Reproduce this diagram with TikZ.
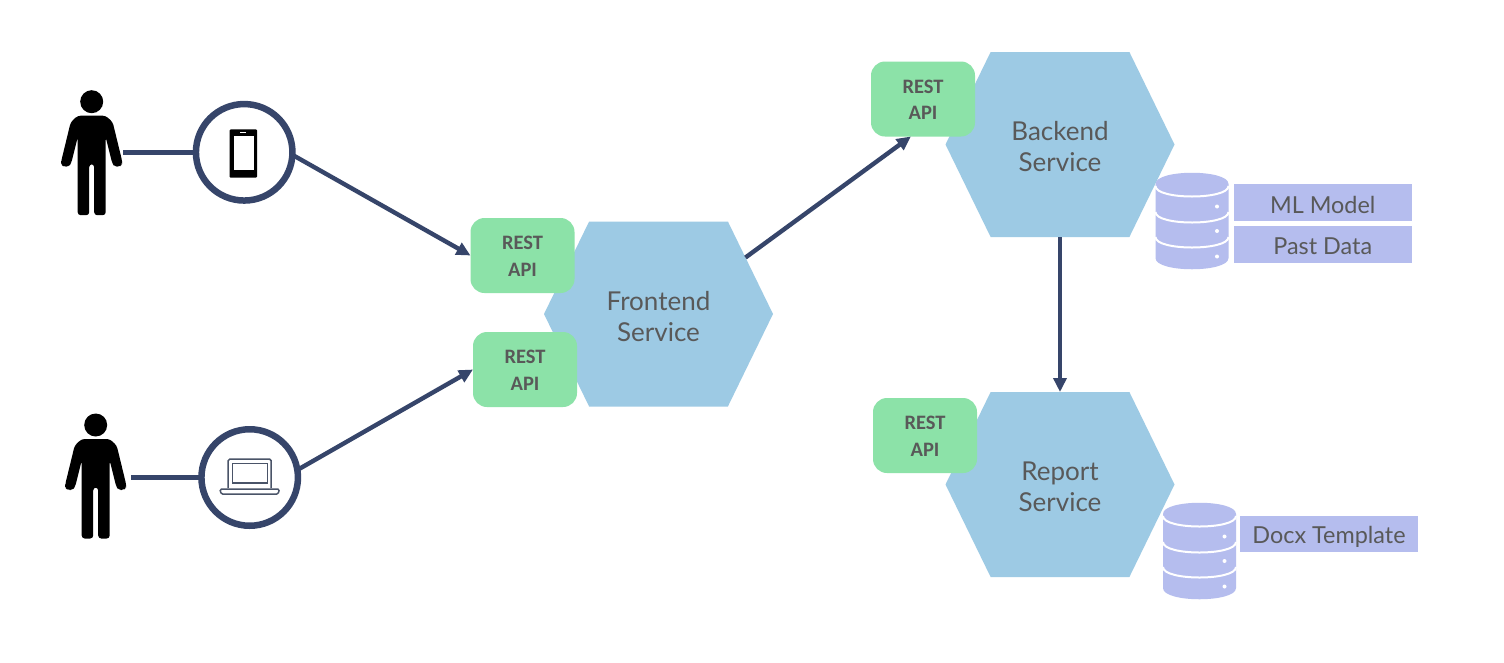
\documentclass[tikz,border=0pt]{standalone}
\usepackage{fontspec}
\setmainfont{Lato}
\newfontfamily\restfont{Carlito}
\usetikzlibrary{shapes.symbols,arrows.meta}
\newcommand{\nudge}[2]{\raisebox{-#1pt}[\height][\depth]{#2}}
\definecolor{hexblue}{HTML}{9DCAE4}
\definecolor{restgreen}{HTML}{8CE2A8}
\definecolor{lav}{HTML}{B5BDEE}
\definecolor{navy}{HTML}{36456A}
\definecolor{txt}{HTML}{595959}
\definecolor{iconblack}{HTML}{000000}
\definecolor{laptopgrey}{HTML}{4A5468}
\tikzset{
  hexnode/.style={signal,signal to=east and west,signal pointer angle=128,
    fill=hexblue,minimum width=229pt,minimum height=185pt,inner sep=0pt,outer sep=0pt,
    text=txt,align=center,font=\fontsize{26}{31}\selectfont},
  restbox/.style={rectangle,rounded corners=14pt,fill=restgreen,minimum width=104pt,minimum height=75pt,
    inner sep=0pt,outer sep=0pt,text=txt,align=center,font=\restfont\bfseries\fontsize{20.5}{26.5}\selectfont},
  lavbox/.style={rectangle,fill=lav,minimum width=178pt,inner sep=0pt,outer sep=0pt,text=txt,
    font=\fontsize{23.4}{26}\selectfont},
  ring/.style={circle,draw=navy,line width=6.5pt,minimum size=96.5pt,inner sep=0pt,outer sep=0pt,fill=white},
  link/.style={draw=navy,line width=4.4pt},
  arrowlink/.style={link,-{Triangle[length=14pt,width=13pt]}},
  person/.pic={
    \fill[iconblack] (0,-51.5) circle (11.5pt);
    \fill[iconblack,rounded corners=3pt] (-14,-37.5) -- (14,-37.5) -- (21,-31) -- (30.5,8) -- (30.5,11) -- (28,13.5) -- (23,13.5) -- (20.5,10)
      -- (14,-16) -- (14,62) -- (2.5,62) -- (2.5,11) -- (-2.5,11) -- (-2.5,62) -- (-14,62) -- (-14,-16)
      -- (-20.5,10) -- (-23,13.5) -- (-28,13.5) -- (-30.5,11) -- (-30.5,8) -- (-21,-31) -- cycle;
  },
  database/.pic={
    \fill[lav] (-36.5,-37) .. controls (-36.5,-52) and (36.5,-52) .. (36.5,-37) -- (36.5,37)
      .. controls (36.5,52) and (-36.5,52) .. (-36.5,37) -- cycle;
    \draw[white,line width=2pt] (-36.5,-35) .. controls (-36.5,-21) and (36.5,-21) .. (36.5,-35);
    \draw[white,line width=2pt] (-36.5,-9) .. controls (-36.5,5) and (36.5,5) .. (36.5,-9);
    \draw[white,line width=2pt] (-36.5,16) .. controls (-36.5,30) and (36.5,30) .. (36.5,16);
    \fill[white] (25,-14.5) circle (2pt) (25,10) circle (2pt) (25,35.5) circle (2pt);
  }
}
\begin{document}
\begin{tikzpicture}[x=1pt,y=-1pt]
\useasboundingbox (0,0) rectangle (1504,662);
\fill[white] (0,0) rectangle (1504,662);

% services
\node[hexnode] (front) at (658.5,314) {\nudge{3}{Frontend}\\\nudge{3}{Service}};
\node[hexnode] (back) at (1060,144.5) {\nudge{2}{Backend}\\\nudge{2}{Service}};
\node[hexnode] (report) at (1060,484.5) {\nudge{2}{Report}\\\nudge{2}{Service}};

% REST interfaces
\node[restbox] (rest1) at (522.5,255.5) {\nudge{1}{REST}\\\nudge{1}{API}};
\node[restbox] (rest2) at (525,369.5) {\nudge{1}{REST}\\\nudge{1}{API}};
\node[restbox] (rest3) at (923,99) {\nudge{1}{REST}\\\nudge{1}{API}};
\node[restbox] (rest4) at (925,435.5) {\nudge{1}{REST}\\\nudge{1}{API}};

% people
\pic at (91.7,153.2) {person};
\pic at (95.7,476.5) {person};
\coordinate (hand1) at (123,152.3);
\coordinate (hand2) at (131,477.5);

% devices
\node[ring] (phone) at (244.2,152.3) {};
\node[ring] (laptop) at (249.7,477.5) {};

% phone glyph
\fill[black,rounded corners=1pt] (229.7,129.3) rectangle (257,177.7);
\fill[white] (233.7,135.7) rectangle (253.7,170.3);
\fill[white] (240.3,131.6) rectangle (246.3,133.2);

% laptop glyph
\draw[laptopgrey,line width=1.5pt,fill=white,rounded corners=1.5pt] (228.2,488) -- (228.2,459.2) -- (271.2,459.2) -- (271.2,488);
\draw[laptopgrey,line width=1.3pt,fill=white] (232.5,463.5) rectangle (267.5,483);
\draw[laptopgrey,line width=1.5pt,fill=white,rounded corners=1.5pt] (219.8,489.2) -- (279.5,489.2) -- (278,494.2) -- (221.3,494.2) -- cycle;

% connectors
\draw[link] (hand1) -- (phone.west);
\draw[link] (hand2) -- (laptop.west);
\draw[arrowlink] (phone.-3) -- (rest1.west);
\draw[arrowlink] (laptop.9) -- (rest2.west);
\draw[arrowlink] (front.33) -- (rest3.252);
\draw[arrowlink] (back.south) -- (report.north);

% data stores
\pic at (1192,221) {database};
\pic at (1199.5,551) {database};
\node[lavbox,minimum height=37pt] (ml) at (1322.7,202.7) {\nudge{2}{ML Model}};
\node[lavbox,minimum height=37pt] (past) at (1322.7,244.5) {\nudge{2}{Past Data}};
\node[lavbox,minimum height=36pt] (docx) at (1329,534) {\nudge{3}{Docx Template}};
\end{tikzpicture}
\end{document}
